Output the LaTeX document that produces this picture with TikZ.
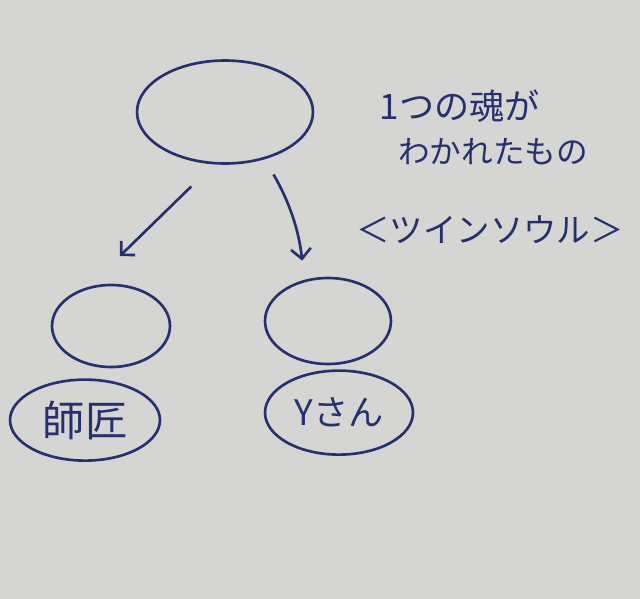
\documentclass[tikz,border=0pt]{standalone}
\usepackage{fontspec}
\newfontfamily\jpfont{Noto Sans CJK JP}
\usetikzlibrary{shapes.geometric,arrows.meta,positioning}
\definecolor{paper}{RGB}{213,213,211}
\definecolor{pen}{RGB}{38,48,108}
\tikzstyle{blob} = [draw=pen, ellipse, line width=1.5pt, inner sep=0pt]
\tikzstyle{namedblob} = [blob, text=pen, font=\jpfont\fontsize{24pt}{26pt}\selectfont]
\tikzstyle{note} = [text=pen, inner sep=0pt, font=\jpfont\fontsize{18pt}{20pt}\selectfont]

\begin{document}
\begin{tikzpicture}[x=0.02cm, y=-0.02cm, >={Straight Barb[angle=90:8pt]}]
    \fill [paper] (0,0) rectangle (640,599);
    \useasboundingbox (0,0) rectangle (640,599);

    % We start by placing the souls
    \node [blob, minimum width=3.52cm, minimum height=2.06cm] (soul) at (225,112) {};
    \node [blob, minimum width=2.36cm, minimum height=1.64cm] (shisho) at (111,326) {};
    \node [blob, minimum width=2.52cm, minimum height=1.72cm] (ysan) at (328,321) {};
    \node [namedblob, minimum width=3.0cm, minimum height=1.62cm, below=0.2cm of shisho, xshift=-0.52cm] (shishoname) {師匠};
    \node [namedblob, font=\jpfont\fontsize{20pt}{22pt}\selectfont, minimum width=2.96cm, minimum height=1.68cm, below=0.08cm of ysan, xshift=0.22cm] (ysanname) {Yさん};

    % notes on the right
    \node [note, font=\jpfont\fontsize{20pt}{22pt}\selectfont] (line1) at (460,106) {1つの魂が};
    \node [note] (line2) at (493,152) {わかれたもの};
    \node [note, font=\jpfont\fontsize{19pt}{21pt}\selectfont] (twin) at (490,230) {＜ツインソウル＞};

    \draw [->, pen, line width=1.5pt, shorten <=18pt, shorten >=25pt] (soul.258) -- (shisho.120);
    \draw [->, pen, line width=1.5pt, shorten <=10pt, shorten >=11pt] (soul.-50) to [bend left=12] (ysan.120);

\end{tikzpicture}
\end{document}
